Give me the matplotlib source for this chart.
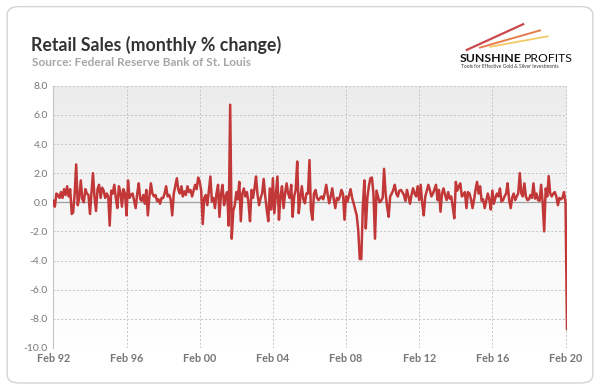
import matplotlib
matplotlib.use("Agg")
import matplotlib.pyplot as plt
import matplotlib.dates as mdates
from matplotlib.patches import FancyBboxPatch
import numpy as np
import pandas as pd

# monthly % change in retail sales (Feb 1992 - Mar 2020)
y1992 = [0.1, -0.3, 0.6, 0.5, 0.3, 0.7, 0.3, 0.9, 0.5, 1.1, 0.4]
y1993 = [0.9, -0.8, -0.7, 0.6, 2.6, -0.2, 0.3, 1.5, 0.2, 0.0, 0.9, 0.6]
y1994 = [0.5, -0.8, 0.6, 2.0, 0.4, -0.6, 0.9, 1.2, 0.3, 1.0, 0.8, 0.3]
y1995 = [0.6, 0.4, -1.6, 0.8, 0.6, 1.2, 0.3, -0.4, 1.1, 0.7, -0.3, 0.9]
y1996 = [0.6, -0.9, 1.5, 0.3, 0.5, 0.6, 0.1, -0.4, 0.6, 1.3, 0.2, 0.1]
y1997 = [0.5, -0.1, 0.85, -0.9, 0.4, 1.3, 0.6, 0.4, 0.5, 0.1, 0.2, -0.1]
y1998 = [0.3, 0.3, 0.6, 1.1, 0.4, 0.5, 0.2, -0.9, 0.6, 1.1, 1.65, 0.85]
y1999 = [0.6, 1.1, 0.4, 0.75, 0.5, 1.1, 0.7, 0.85, 0.4, 0.8, 1.2, 0.9]
y2000 = [1.7, 1.4, 0.8, -1.5, 0.3, 0.5, -0.2, 0.8, 1.77, 0.05, 0.3, -0.4]
y2001 = [0.6, 1.2, -1.0, 0.6, 1.2, -0.2, 0.4, 0.7, -1.6, 6.7, -2.5, -0.6]
y2002 = [-0.2, 0.7, 0.2, 1.4, -1.3, 0.6, 0.95, 0.4, 0.7, 0.0, -1.3, 0.85]
y2003 = [0.3, 1.0, 1.77, 0.5, -0.2, 0.3, 0.6, 1.6, 0.4, -0.5, -1.3, 0.95]
y2004 = [-0.5, 1.65, -0.75, 0.5, 1.77, -1.2, 0.4, 1.1, -0.4, 0.6, 1.3, 0.6]
y2005 = [0.3, 1.2, -1.0, 0.4, 0.85, 2.8, -0.75, 0.3, 1.1, 0.2, -0.07, 0.6]
y2006 = [0.6, 2.9, -0.5, -1.2, 0.6, 0.85, 0.3, 0.15, 0.3, 0.4, 0.2, 0.6]
y2007 = [1.2, 0.5, -0.07, 0.4, 0.96, 0.2, -0.4, 0.3, 0.15, 0.4, 0.85, 0.6]
y2008 = [-1.2, 0.4, 0.05, 0.5, 0.9, 0.3, -0.07, -0.5, -0.9, -1.9, -3.9, -3.9]
y2009 = [-0.3, 1.5, -1.8, 0.3, 1.1, 1.65, 1.7, 0.6, -2.5, 0.8, 0.4, 0.0]
y2010 = [0.1, 0.3, 2.3, 0.6, -0.3, -1.0, 0.4, 0.6, 0.85, 1.2, 0.6, 0.4]
y2011 = [0.8, 0.85, 0.7, 0.5, 0.1, 0.85, 0.4, -0.1, 0.5, 0.96, 0.6, 0.4]
y2012 = [1.1, 0.15, 1.2, -0.07, -0.9, 0.4, 0.8, 1.2, 0.85, 0.4, 0.6, 0.9]
y2013 = [1.2, 0.15, 0.85, -0.65, 0.6, 0.95, 0.5, 0.15, 0.7, 0.25, 0.4, -0.3]
y2014 = [-1.1, 1.4, 0.8, 1.1, 1.3, 0.4, 0.5, 0.7, -0.4, 0.7, 0.6, 0.2]
y2015 = [-0.4, 0.2, 0.85, 1.4, 0.6, 1.1, 0.1, 0.2, -0.4, 0.1, 0.6, 0.2]
y2016 = [-0.5, 0.8, -0.1, 0.3, 0.6, 0.4, 0.95, 0.05, 0.15, 0.4, 0.6, 1.3]
y2017 = [0.15, -0.4, 0.3, 0.6, 0.15, 0.4, 0.6, 2.0, 0.6, 0.4, 1.3, 0.4]
y2018 = [0.15, 0.2, 0.5, 0.3, 1.3, 0.25, 0.6, 0.15, 0.1, 1.2, 0.0, -2.0]
y2019 = [0.95, 0.4, 1.8, 0.6, 0.4, 0.6, 0.7, 0.4, -0.2, 0.3, 0.2, 0.3]
y2020 = [0.7, 0.0, -8.7]

values = (y1992 + y1993 + y1994 + y1995 + y1996 + y1997 + y1998 + y1999 +
          y2000 + y2001 + y2002 + y2003 + y2004 + y2005 + y2006 + y2007 +
          y2008 + y2009 + y2010 + y2011 + y2012 + y2013 + y2014 + y2015 +
          y2016 + y2017 + y2018 + y2019 + y2020)
dates = pd.date_range("1992-02-01", periods=len(values), freq="MS")

tick_dates = pd.date_range("1992-02-01", "2020-02-01", freq="48MS")
y_ticks = np.arange(-10, 9, 2)

plt.rcParams['font.family'] = ['Lato', 'DejaVu Sans']

fig = plt.figure(figsize=(6, 3.9), dpi=100)

# rounded outer frame, kept behind the axes
frame = FancyBboxPatch((0.012, 0.018), 0.976, 0.965, boxstyle="round,pad=0,rounding_size=0.02",
                       transform=fig.transFigure, facecolor="white", edgecolor="#d4d4d4",
                       linewidth=1.0, zorder=-5)
fig.patches.append(frame)

fig.text(0.051, 0.885, "Retail Sales (monthly % change)", fontsize=12.8, fontweight="bold",
         color="#333333", va="center")
fig.text(0.053, 0.841, "Source: Federal Reserve Bank of St. Louis", fontsize=8.6,
         fontweight="bold", color="#a6a6a6", va="center")

# logo
streaks = [([0.778, 0.872], [0.872, 0.938], "#c0282d", 1.6),
           ([0.80, 0.90], [0.878, 0.922], "#e0662a", 1.4),
           ([0.817, 0.913], [0.880, 0.907], "#f2c04a", 1.3)]
for xs, ys, c, w in streaks:
    fig.lines.append(plt.Line2D(xs, ys, transform=fig.transFigure, color=c, lw=w, alpha=0.85))
fig.text(0.766, 0.851, "SUNSHINE", fontsize=8.8, fontweight="bold", color="#111111", va="center")
fig.text(0.873, 0.851, "PROFITS", fontsize=8.8, color="#111111", va="center")
fig.text(0.769, 0.829, "Tools for Effective Gold & Silver Investments", fontsize=3.5,
         color="#333333", va="center")

ax = fig.add_axes([0.089, 0.108, 0.856, 0.672])
grad = np.linspace(1.0, 0.0, 256).reshape(-1, 1)
ax.imshow(grad, extent=[0, 1, 0, 1], transform=ax.transAxes, aspect="auto",
          cmap=matplotlib.colors.LinearSegmentedColormap.from_list("bg", ["#ffffff", "#ececec"]),
          zorder=0)

ax.plot(dates, values, color="#c23838", linewidth=1.8, zorder=3)
ax.axhline(0, color="#a0a0a0", linewidth=0.9, zorder=2)

ax.set_xlim(dates[0], dates[-1])
ax.set_ylim(-10, 8)
ax.set_yticks(y_ticks)
ax.set_yticklabels([f"{v:.1f}" for v in y_ticks])
ax.set_xticks(tick_dates)
ax.xaxis.set_major_formatter(mdates.DateFormatter("%b %y"))

ax.grid(True, linestyle=(0, (2, 2)), color="#c4c4c4", linewidth=0.7, zorder=1)
ax.set_axisbelow(True)
for s in ["top", "right", "bottom"]:
    ax.spines[s].set_visible(False)
ax.spines["left"].set_color("#c4c4c4")
ax.tick_params(length=0, pad=4)
ax.tick_params(axis="y", labelsize=7.5, labelcolor="#777777")
ax.tick_params(axis="x", labelsize=7.8, labelcolor="#777777")
for lab in ax.get_xticklabels():
    lab.set_fontweight("bold")

fig.savefig("out.png", dpi=100)
